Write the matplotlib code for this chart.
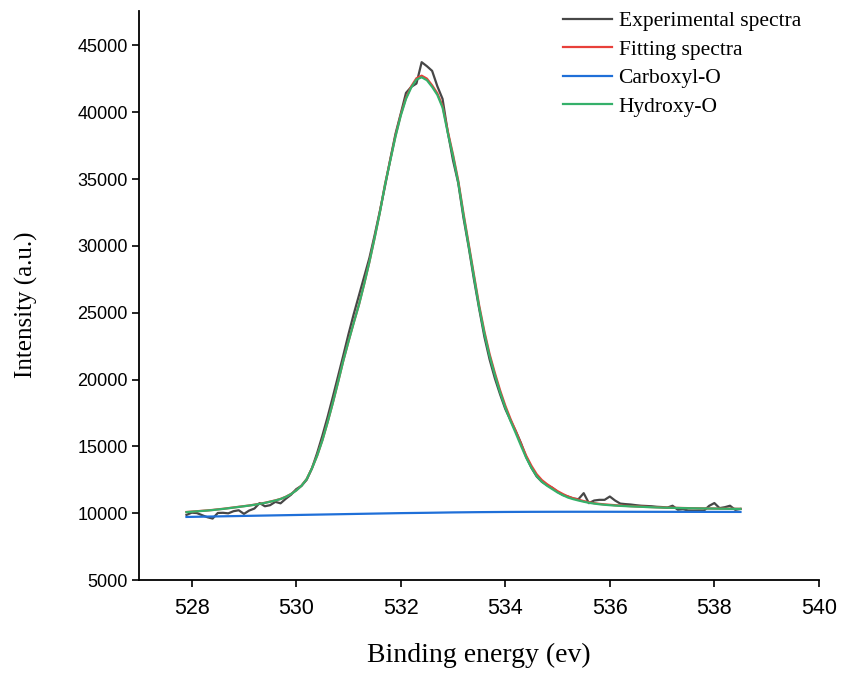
import numpy as np
import matplotlib
matplotlib.use('Agg')
import matplotlib.pyplot as plt

# binding energy grid of the measured / fitted spectra (0.1 eV step, 527.9 - 538.5 eV)
e_start = 527.9
e_step = 0.1

experimental = [
    9870, 10040, 10010, 9850, 9700, 9600, 10020, 10030, 9990, 10150,      # 527.9 - 528.8
    10220, 9950, 10200, 10350, 10760, 10520, 10600, 10850, 10740, 11080,  # 528.9 - 529.8
    11380, 11800, 12050, 12500, 13350, 14500, 15800, 17200, 18700, 20250,  # 529.9 - 530.8
    21800, 23400, 24900, 26300, 27700, 29100, 30800, 32600, 34500, 36500,  # 530.9 - 531.8
    38400, 39900, 41450, 41900, 42150, 43750, 43450, 43100, 41950, 41000,  # 531.9 - 532.8
    38500, 36400, 34700, 32100, 29900, 27500, 25300, 23200, 21500, 20100,  # 532.9 - 533.8
    18900, 17800, 16950, 16150, 15250, 14200, 13400, 12750, 12350, 12100,  # 533.9 - 534.8
    11900, 11600, 11360, 11250, 11100, 11050, 11500, 10750, 10950, 11000,  # 534.9 - 535.8
    11000, 11250, 10950, 10720, 10680, 10650, 10600, 10560, 10540, 10520,  # 535.9 - 536.8
    10480, 10460, 10420, 10560, 10260, 10300, 10200, 10190, 10200, 10190,  # 536.9 - 537.8
    10550, 10760, 10380, 10450, 10560, 10250, 10320,                       # 537.9 - 538.5
]

hydroxy = [
    10080, 10110, 10140, 10170, 10200, 10235, 10280, 10320, 10370, 10420,
    10470, 10520, 10570, 10630, 10700, 10770, 10860, 10950, 11060, 11220,
    11430, 11700, 12050, 12550, 13350, 14300, 15450, 16800, 18250, 19800,
    21400, 22850, 24250, 25600, 27150, 28800, 30600, 32500, 34600, 36400,
    38200, 39750, 41000, 41850, 42450, 42620, 42400, 41900, 41300, 40350,
    38450, 36700, 34750, 32300, 30000, 27700, 25400, 23450, 21750, 20350,
    19050, 17900, 16900, 15990, 15050, 14150, 13400, 12780, 12350, 12050,
    11800, 11550, 11350, 11170, 11050, 10950, 10860, 10780, 10720, 10670,
    10630, 10600, 10570, 10550, 10530, 10510, 10495, 10480, 10460, 10445,
    10430, 10420, 10410, 10400, 10390, 10380, 10370, 10365, 10360, 10355,
    10350, 10345, 10340, 10335, 10330, 10325, 10320,
]

fitting = [
    10090, 10120, 10150, 10180, 10210, 10245, 10290, 10330, 10380, 10430,
    10480, 10530, 10580, 10640, 10710, 10780, 10870, 10960, 11070, 11230,
    11440, 11710, 12060, 12560, 13360, 14310, 15460, 16810, 18260, 19810,
    21410, 22860, 24260, 25610, 27160, 28810, 30620, 32530, 34640, 36450,
    38260, 39820, 41080, 41940, 42550, 42740, 42520, 42020, 41420, 40470,
    38580, 36830, 34880, 32440, 30140, 27840, 25550, 23600, 21900, 20500,
    19200, 18050, 17050, 16140, 15200, 14300, 13550, 12920, 12480, 12170,
    11910, 11650, 11440, 11250, 11120, 11010, 10910, 10820, 10750, 10700,
    10660, 10630, 10600, 10575, 10550, 10530, 10510, 10495, 10475, 10460,
    10445, 10432, 10420, 10410, 10400, 10390, 10380, 10374, 10368, 10362,
    10357, 10352, 10347, 10342, 10337, 10332, 10327,
]

carboxyl_energy = [527.9, 528.5, 529.0, 529.5, 530.0, 530.5, 531.0, 531.5, 532.0, 532.5, 533.0,
                   533.5, 534.0, 534.5, 535.0, 535.5, 536.0, 536.5, 537.0, 537.5, 538.0, 538.5]
carboxyl = [9720, 9762, 9797, 9832, 9867, 9902, 9937, 9972, 10006, 10030, 10060,
            10080, 10094, 10103, 10107, 10108, 10107, 10105, 10103, 10100, 10098, 10095]

energy = np.round(e_start + e_step * np.arange(len(experimental)), 1)

plt.rcParams['font.family'] = ['Liberation Sans', 'DejaVu Sans']
serif = ['Liberation Serif', 'DejaVu Serif']

fig = plt.figure(figsize=(8.43, 6.75), dpi=100)
ax = fig.add_axes([0.1654, 0.1407, 0.806, 0.8434])

ax.plot(energy, experimental, color='#474747', linewidth=1.6, label='Experimental spectra')
ax.plot(energy, fitting, color='#e8403a', linewidth=1.6, label='Fitting spectra')
ax.plot(carboxyl_energy, carboxyl, color='#1f6fd8', linewidth=1.6, label='Carboxyl-O')
ax.plot(energy, hydroxy, color='#35b06a', linewidth=1.6, label='Hydroxy-O')

ax.set_xlim(527, 540)
ax.set_ylim(5000, 47600)
ax.set_xticks(range(528, 541, 2))
ax.set_yticks(range(5000, 45001, 5000))

for side in ['top', 'right']:
    ax.spines[side].set_visible(False)
for side in ['left', 'bottom']:
    ax.spines[side].set_linewidth(1.3)
ax.tick_params(length=5, width=1.2, color='black')
ax.tick_params(axis='x', labelsize=15.5, pad=8)
ax.tick_params(axis='y', labelsize=13)

ax.set_xlabel('Binding energy (ev)', family=serif, fontsize=20, labelpad=17)
ax.set_ylabel('Intensity (a.u.)', family=serif, fontsize=18)
ax.yaxis.set_label_coords(-0.149, 0.483)

ax.legend(loc='upper left', bbox_to_anchor=(0.607, 1.018), frameon=False, borderpad=0,
          prop={'family': serif, 'size': 15.5}, handlelength=2.3,
          handletextpad=0.3, labelspacing=0.39)

fig.savefig('out.png', dpi=100)
